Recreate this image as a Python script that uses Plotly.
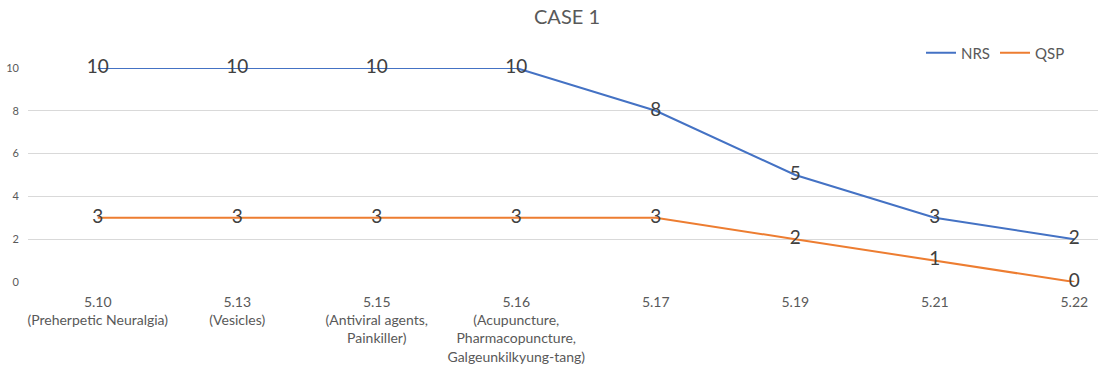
import plotly.graph_objects as go

categories = [
    "5.10<br>(Preherpetic Neuralgia)",
    "5.13<br>(Vesicles)",
    "5.15<br>(Antiviral agents,<br>Painkiller)",
    "5.16<br>(Acupuncture,<br>Pharmacopuncture,<br>Galgeunkilkyung-tang)",
    "5.17",
    "5.19",
    "5.21",
    "5.22",
]
nrs = [10, 10, 10, 10, 8, 5, 3, 2]
qsp = [3, 3, 3, 3, 3, 2, 1, 0]
y_ticks = [0, 2, 4, 6, 8, 10]

FONT = "Lato, 'Noto Sans', sans-serif"
xs = list(range(len(categories)))

fig = go.Figure()
for name, vals, color in [("NRS", nrs, "#4472C4"), ("QSP", qsp, "#ED7D31")]:
    fig.add_trace(go.Scatter(
        x=xs, y=vals, name=name, mode="lines+text",
        text=[str(v) for v in vals], textposition="middle center",
        textfont=dict(size=19, color="#404040", family=FONT),
        line=dict(color=color, width=2),
        cliponaxis=False,
    ))

PLOT_H = 366 - 68 - 84
fig.update_layout(
    width=1098, height=366,
    margin=dict(l=28, r=0, t=68, b=84, autoexpand=False),
    paper_bgcolor="white", plot_bgcolor="white",
    font=dict(family=FONT, color="#595959"),
    title=dict(text="CASE 1", x=567/1098, xref="container", xanchor="center",
               y=1 - 17/366, yref="container", yanchor="middle",
               font=dict(size=20, color="#595959", family=FONT)),
    legend=dict(orientation="h", x=(1070 - 28) / 1070, xanchor="right",
                y=1 + (68 - 53) / PLOT_H, yanchor="middle",
                font=dict(size=15, color="#595959", family=FONT),
                itemwidth=30, tracegroupgap=0, bgcolor="rgba(0,0,0,0)"),
    showlegend=True,
)
fig.update_xaxes(
    tickmode="array", tickvals=xs, ticktext=categories,
    range=[-0.5, 7.17], showgrid=False, zeroline=False, showline=False,
    tickfont=dict(size=14, color="#595959", family=FONT), ticks="",
    ticklabelstandoff=10,
)
fig.update_yaxes(
    range=[0, 10], tickvals=y_ticks, showgrid=True, gridcolor="#D9D9D9", gridwidth=1,
    zeroline=False, showline=False, tickfont=dict(size=11, color="#595959", family=FONT),
    ticks="", ticklabelstandoff=8,
)
fig.write_html(
    "out.html",
    config={"displayModeBar": False},
    post_script="document.body.style.margin='0';document.body.style.overflow='hidden';",
)
